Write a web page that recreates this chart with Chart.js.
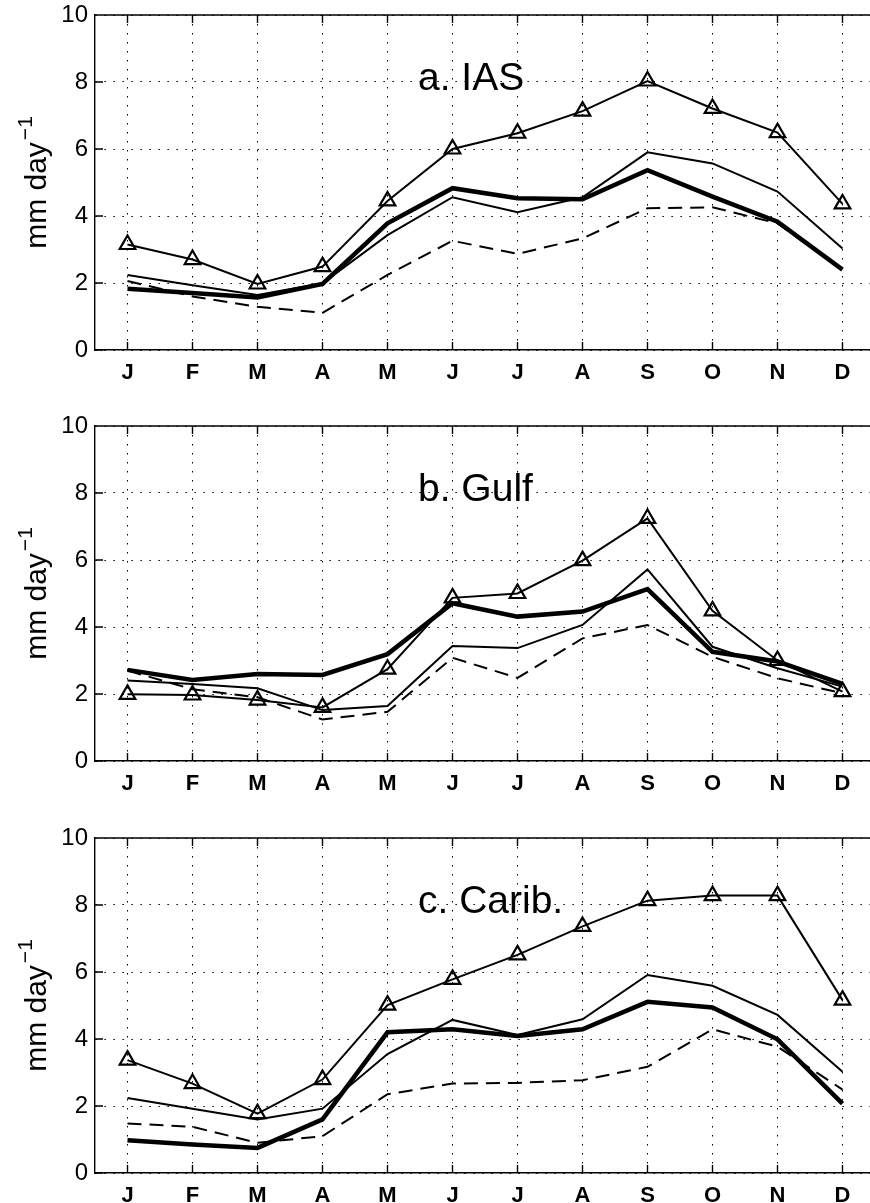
<!DOCTYPE html>
<html lang="en">
<head>
<meta charset="UTF-8">
<title>Monthly precipitation: IAS, Gulf, Caribbean</title>
<script src="https://cdn.jsdelivr.net/npm/chart.js"></script>
<style>
  html, body { margin: 0; padding: 0; background: #fff; overflow: hidden; width: 870px; height: 1203px; }
  .panel { position: absolute; left: 0; }
</style>
</head>
<body>
<canvas id="chartA" class="panel" width="900" height="380" style="top:0px"></canvas>
<canvas id="chartB" class="panel" width="900" height="380" style="top:411px"></canvas>
<canvas id="chartC" class="panel" width="900" height="380" style="top:823px"></canvas>
<script>
const months = ['J', 'F', 'M', 'A', 'M', 'J', 'J', 'A', 'S', 'O', 'N', 'D'];
const yTicks = [0, 2, 4, 6, 8, 10];

// a. IAS
const iasTri   = [3.15, 2.70, 1.97, 2.49, 4.45, 6.00, 6.47, 7.13, 8.03, 7.21, 6.49, 4.36];
const iasThick = [1.83, 1.70, 1.57, 1.97, 3.78, 4.83, 4.53, 4.50, 5.37, 4.58, 3.83, 2.40];
const iasThin  = [2.24, 1.93, 1.64, 1.99, 3.43, 4.56, 4.11, 4.56, 5.90, 5.57, 4.73, 3.03];
const iasDash  = [2.06, 1.60, 1.29, 1.11, 2.24, 3.26, 2.87, 3.33, 4.23, 4.26, 3.78, 2.38];

// b. Gulf
const gulfTri   = [1.99, 1.97, 1.82, 1.60, 2.74, 4.87, 5.00, 5.98, 7.24, 4.48, 3.00, 2.07];
const gulfThick = [2.72, 2.42, 2.60, 2.57, 3.19, 4.71, 4.31, 4.46, 5.13, 3.26, 2.97, 2.30];
const gulfThin  = [2.40, 2.30, 2.17, 1.52, 1.64, 3.43, 3.37, 4.06, 5.72, 3.41, 2.77, 2.22];
const gulfDash  = [2.70, 2.14, 1.90, 1.24, 1.47, 3.08, 2.48, 3.66, 4.06, 3.11, 2.47, 2.02];

// c. Carib.
const carTri   = [3.37, 2.67, 1.77, 2.79, 5.01, 5.78, 6.51, 7.36, 8.13, 8.28, 8.28, 5.16];
const carThick = [0.98, 0.85, 0.75, 1.60, 4.20, 4.29, 4.09, 4.29, 5.11, 4.94, 3.99, 2.07];
const carThin  = [2.24, 1.92, 1.60, 1.92, 3.55, 4.57, 4.12, 4.59, 5.91, 5.59, 4.72, 3.02];
const carDash  = [1.48, 1.38, 0.90, 1.10, 2.35, 2.67, 2.69, 2.77, 3.17, 4.29, 3.77, 2.49];

const FONT = '"Liberation Sans", Arial, Helvetica, sans-serif';

// matlab style frame: top line, inward ticks, panel title, y label
const frame = {
    id: 'frame',
    afterDraw(chart, args, opts) {
        const { ctx, chartArea: a, scales: { x, y } } = chart;
        ctx.save();
        ctx.strokeStyle = '#000';
        ctx.lineWidth = 1.4;
        ctx.beginPath();
        ctx.moveTo(a.left, a.top);
        ctx.lineTo(a.right, a.top);
        x.ticks.forEach(t => {
            const px = x.getPixelForValue(t.value);
            ctx.moveTo(px, a.bottom); ctx.lineTo(px, a.bottom - 8);
            ctx.moveTo(px, a.top); ctx.lineTo(px, a.top + 8);
        });
        y.ticks.forEach(t => {
            const py = y.getPixelForValue(t.value);
            ctx.moveTo(a.left, py); ctx.lineTo(a.left + 8, py);
        });
        ctx.stroke();

        ctx.fillStyle = '#000';
        ctx.textBaseline = 'alphabetic';
        ctx.textAlign = 'left';
        ctx.font = '39px ' + FONT;
        ctx.fillText(opts.title, a.left + 323, a.top + 75);

        // y label "mm day^-1"
        ctx.translate(46, (a.top + a.bottom) / 2);
        ctx.rotate(-Math.PI / 2);
        ctx.font = '30px ' + FONT;
        const main = 'mm day';
        const w1 = ctx.measureText(main).width;
        ctx.font = '21px ' + FONT;
        const w2 = ctx.measureText('\u22121').width;
        const start = -(w1 + w2 + 2) / 2;
        ctx.font = '30px ' + FONT;
        ctx.fillText(main, start, 0);
        ctx.font = '21px ' + FONT;
        ctx.fillText('\u22121', start + w1 + 2, -14);
        ctx.restore();
    }
};

function buildDatasets(tri, thick, thin, dash) {
    const pts = vals => vals.map((v, i) => ({ x: i + 1, y: v }));
    const base = { borderColor: '#000', backgroundColor: '#000', tension: 0, pointRadius: 0, fill: false };
    return [
        { ...base, label: 'dashed', data: pts(dash), borderWidth: 2, borderDash: [14, 8] },
        { ...base, label: 'thin', data: pts(thin), borderWidth: 2 },
        { ...base, label: 'thick', data: pts(thick), borderWidth: 4.5 },
        {
            ...base, label: 'triangles', data: pts(tri), borderWidth: 2,
            pointStyle: 'triangle', pointRadius: 9, pointBorderWidth: 2.2,
            pointBorderColor: '#000', pointBackgroundColor: 'rgba(0,0,0,0)'
        }
    ];
}

function makePanel(canvasId, title, tri, thick, thin, dash) {
    const ctx = document.getElementById(canvasId).getContext('2d');
    new Chart(ctx, {
        type: 'line',
        data: { datasets: buildDatasets(tri, thick, thin, dash) },
        plugins: [frame],
        options: {
            responsive: false,
            animation: false,
            layout: { padding: { top: 15, right: 25, left: 0, bottom: 0 } },
            plugins: {
                legend: { display: false },
                tooltip: { enabled: false },
                frame: { title: title }
            },
            scales: {
                x: {
                    type: 'linear',
                    min: 0.5,
                    max: 12.5,
                    afterBuildTicks: s => { s.ticks = months.map((m, i) => ({ value: i + 1 })); },
                    afterFit: s => { s.height = 30; },
                    ticks: {
                        callback: v => months[v - 1],
                        color: '#000',
                        font: { family: FONT, size: 22, weight: 'bold' },
                        padding: 10,
                        maxRotation: 0,
                        autoSkip: false
                    },
                    grid: { color: '#000', lineWidth: 1, drawTicks: false },
                    border: { color: '#000', width: 1.4, dash: [1.5, 7.5] }
                },
                y: {
                    min: 0,
                    max: 10,
                    afterBuildTicks: s => { s.ticks = yTicks.map(v => ({ value: v })); },
                    afterFit: s => { s.width = 95; s.paddingTop = 5; s.paddingBottom = 5; },
                    ticks: {
                        color: '#000',
                        font: { family: FONT, size: 24 },
                        padding: 7
                    },
                    grid: { color: '#000', lineWidth: 1, drawTicks: false },
                    border: { color: '#000', width: 1.4, dash: [1.5, 7.5] }
                }
            }
        }
    });
}

makePanel('chartA', 'a. IAS', iasTri, iasThick, iasThin, iasDash);
makePanel('chartB', 'b. Gulf', gulfTri, gulfThick, gulfThin, gulfDash);
makePanel('chartC', 'c. Carib.', carTri, carThick, carThin, carDash);
</script>
</body>
</html>
